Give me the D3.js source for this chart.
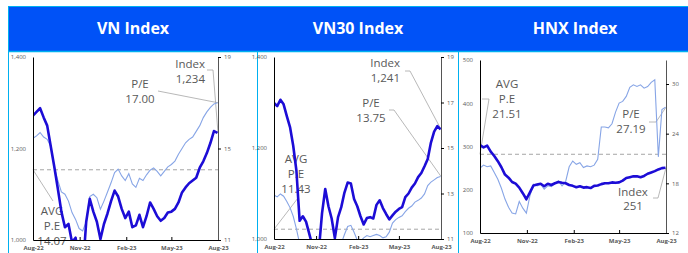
<!DOCTYPE html>
<html>
<head>
<meta charset="utf-8">
<script src="https://cdn.jsdelivr.net/npm/d3@7/dist/d3.min.js"></script>
<style>
  body { margin: 0; background: #fff; }
  svg { display: block; font-family: "Open Sans", sans-serif; }
</style>
</head>
<body>
<svg id="chart" width="688" height="253"></svg>
<script>
const titles = ["VN Index", "VN30 Index", "HNX Index"];
const xTickLabels = ["Aug-22", "Nov-22", "Feb-23", "May-23", "Aug-23"];
const xTickDates = ["2022-08-01", "2022-11-01", "2023-02-01", "2023-05-01", "2023-08-01"];

// weekly closes, Aug-22 .. Aug-23
const vnIndex = [1272,1280,1288,1268,1250,1205,1160,1112,1062,1028,1035,995,1005,960,930,1040,1090,1062,1040,1002,
  1035,1058,1085,1108,1095,1068,1048,1062,1028,1032,1055,1028,1052,1082,1068,1052,1042,1048,1060,1062,
  1068,1082,1104,1115,1124,1130,1136,1158,1172,1190,1212,1238,1234];
const vnPE = [15.45,15.55,15.7,15.5,15.4,15.1,14.2,13.6,13.1,13.0,12.7,12.2,11.9,11.5,11.4,11.8,12.9,13.0,12.85,12.35,
  12.7,13.1,13.5,13.95,14.1,13.8,13.6,13.9,13.45,13.3,13.7,13.6,13.85,14.05,14.15,14.0,13.8,14.0,14.2,14.3,
  14.45,14.75,15.0,15.25,15.4,15.5,15.75,16.0,16.35,16.6,16.8,16.95,17.0];

const vn30Index = [1299,1292,1306,1296,1270,1246,1205,1150,1040,1050,1038,1012,985,960,975,1057,1110,1072,1045,1002,
  1048,1070,1102,1124,1122,1088,1072,1050,1032,1046,1048,1045,1075,1085,1068,1055,1043,1052,1060,1066,
  1070,1092,1100,1113,1122,1136,1145,1160,1176,1212,1236,1248,1241];
const vn30PE = [12.93,12.85,12.98,12.88,12.65,12.38,12.0,11.45,10.8,10.6,10.5,10.3,10.2,10.1,10.3,10.7,10.85,10.7,10.5,10.3,
  10.6,10.8,11.2,11.55,11.6,11.3,10.95,10.9,11.05,11.15,11.1,11.15,11.2,11.15,11.05,11.1,11.3,11.7,11.85,11.95,
  12.02,12.2,12.35,12.45,12.62,12.7,12.8,12.98,13.35,13.5,13.6,13.7,13.75];

const hnxIndex = [303,298,302,288,278,266,252,235,228,218,214,205,192,178,194,210,212,214,208,214,
  211,215,218,216,215,211,209,206,208,205,206,204,209,210,213,215,215,217,216,217,
  221,227,229,231,231,229,232,237,240,243,247,250,251];
const hnxPE = [19.85,20.2,20.0,20.1,19.3,18.5,17.4,16.1,15.1,14.4,14.3,15.8,15.0,14.4,16.5,17.9,17.7,17.9,17.3,17.7,
  17.6,18.0,18.3,17.7,18.2,20.0,20.7,20.3,20.5,19.9,20.1,20.0,20.2,20.9,24.8,24.8,24.7,25.2,26.6,27.7,
  27.9,28.5,29.6,29.9,29.7,29.9,29.5,29.7,30.2,30.5,21.2,26.9,27.19];

const avgPE = [14.07, 11.43, 21.51];

const startDate = new Date(2022, 7, 1);
const weeks = d3.range(vnIndex.length).map(i => d3.timeDay.offset(startDate, i * 7));
const tickDates = xTickDates.map(d => d3.timeParse("%Y-%m-%d")(d));

const svg = d3.select("#chart");
const cyan = "#00b0f0";
const grey = "#595959";

// header band + panel borders
svg.append("rect").attr("x", 8).attr("y", 6).attr("width", 690).attr("height", 46).attr("fill", "#0052f7");
svg.append("line").attr("x1", 8).attr("x2", 688).attr("y1", 6.5).attr("y2", 6.5).attr("stroke", cyan);
svg.append("line").attr("x1", 8).attr("x2", 688).attr("y1", 51.5).attr("y2", 51.5).attr("stroke", cyan).attr("stroke-width", 1.5);
[8.5, 257.5, 458.5].forEach((x, i) => {
  svg.append("line").attr("x1", x).attr("x2", x).attr("y1", i === 0 ? 6 : 51).attr("y2", 253)
    .attr("stroke", cyan);
});
[133, 358, 575].forEach((cx, i) => {
  svg.append("text").attr("x", cx).attr("y", 34).attr("text-anchor", "middle")
    .attr("fill", "#fff").attr("font-weight", "bold").attr("font-size", 16).text(titles[i]);
});

const panels = [
  {
    x0: 33, x1: 218, y0: 57, y1: 240,
    index: vnIndex, pe: vnPE, avg: avgPE[0],
    left: [1000, 1400], leftTicks: [1000, 1200, 1400],
    right: [11, 19], rightTicks: [11, 15, 19],
    notes: {
      index: { x: 205, anchor: "end", ys: [68, 83], path: [[207, 70], [213, 70]] },
      pe: { x: 140, anchor: "middle", ys: [88, 103], path: [[158, 91]] },
      avg: { x: 52, ys: [215, 230, 245], path: [[53, 201]] }
    }
  },
  {
    x0: 274, x1: 441, y0: 57, y1: 239,
    index: vn30Index, pe: vn30PE, avg: avgPE[1],
    left: [1000, 1400], leftTicks: [1000, 1200, 1400],
    right: [11, 19], rightTicks: [11, 13, 15, 17, 19],
    notes: {
      index: { x: 400, anchor: "end", ys: [67, 82], path: [[405, 71], [410, 71]] },
      pe: { x: 371, anchor: "middle", ys: [107, 122], path: [[389, 110], [394, 110]] },
      avg: { x: 296, ys: [163, 178, 193], path: [[298, 198]] }
    }
  },
  {
    x0: 480, x1: 666, y0: 60, y1: 233,
    index: hnxIndex, pe: hnxPE, avg: avgPE[2],
    left: [100, 500], leftTicks: [100, 200, 300, 400, 500],
    right: [12, 32.9], rightTicks: [12, 18, 24, 30],
    notes: {
      index: { x: 633, anchor: "middle", ys: [196, 210], path: [[653, 198], [658, 198]] },
      pe: { x: 631, anchor: "middle", ys: [118, 133], path: [[649, 122], [656, 122]] },
      avg: { x: 507, ys: [88, 103, 118], path: [[489, 99], [482, 99]] }
    }
  }
];

panels.forEach((p, k) => {
  const x = d3.scaleTime().domain([startDate, new Date(2023, 7, 1)]).range([p.x0, p.x1]);
  const yL = d3.scaleLinear().domain(p.left).range([p.y1, p.y0]);
  const yR = d3.scaleLinear().domain(p.right).range([p.y1, p.y0]);
  const g = svg.append("g");

  const clipId = "clip" + k;
  g.append("clipPath").attr("id", clipId)
    .append("rect").attr("x", p.x0).attr("y", p.y0).attr("width", p.x1 - p.x0).attr("height", p.y1 - p.y0);

  const last = weeks.length - 1;
  const indexEnd = [p.x1, yL(p.index[last])];
  const peEnd = [p.x1, yR(p.pe[last])];
  const avgY = yR(p.avg);

  // annotation texts (drawn under the lines, like the original)
  const fmtIdx = d3.format(",.0f");
  const note = (n, lines) => {
    const t = g.append("text").attr("fill", grey).attr("font-size", 11.5)
      .attr("text-anchor", n.anchor || "middle");
    lines.forEach((s, i) => t.append("tspan").attr("x", n.x).attr("y", n.ys[i]).text(s));
  };
  note(p.notes.index, ["Index", fmtIdx(p.index[last])]);
  note(p.notes.pe, ["P/E", p.pe[last].toFixed(2)]);
  note(p.notes.avg, ["AVG", "P.E", p.avg.toFixed(2)]);

  const leader = pts => g.append("path").attr("d", d3.line()(pts))
    .attr("fill", "none").attr("stroke", "#a6a6a6").attr("stroke-width", 0.8);
  leader([...p.notes.index.path, indexEnd]);
  leader([...p.notes.pe.path, peEnd]);
  leader([[p.x0, avgY], ...p.notes.avg.path].reverse());

  // average P/E
  g.append("line").attr("x1", p.x0).attr("x2", p.x1).attr("y1", avgY).attr("y2", avgY)
    .attr("stroke", "#a6a6a6").attr("stroke-width", 1).attr("stroke-dasharray", "4,3");

  const series = g.append("g").attr("clip-path", `url(#${clipId})`);
  series.append("path")
    .attr("d", d3.line().x((d, i) => x(weeks[i])).y(d => yR(d))(p.pe))
    .attr("fill", "none").attr("stroke", "#87a5e6").attr("stroke-width", 1.1);
  series.append("path")
    .attr("d", d3.line().x((d, i) => x(weeks[i])).y(d => yL(d))(p.index))
    .attr("fill", "none").attr("stroke", "#1c0cd6").attr("stroke-width", 2.6)
    .attr("stroke-linejoin", "round");

  // axes
  const ax = g.append("g").attr("transform", `translate(0,${p.y1})`)
    .call(d3.axisBottom(x).tickValues(tickDates).tickFormat((d, i) => xTickLabels[i])
      .tickSizeInner(-3).tickSizeOuter(0).tickPadding(6));
  ax.selectAll("text").attr("font-size", 6).attr("font-weight", "bold").attr("fill", grey);

  const al = g.append("g").attr("transform", `translate(${p.x0},0)`)
    .call(d3.axisLeft(yL).tickValues(p.leftTicks).tickFormat(d3.format(","))
      .tickSize(0).tickPadding(7));
  al.selectAll("text").attr("font-size", 6).attr("fill", grey);

  const ar = g.append("g").attr("transform", `translate(${p.x1},0)`)
    .call(d3.axisRight(yR).tickValues(p.rightTicks).tickSizeInner(3).tickSizeOuter(0).tickPadding(3));
  ar.selectAll("text").attr("font-size", 6).attr("fill", grey);
  ar.select(".domain").attr("stroke", "#555");

  [ax, al, ar].forEach(a => a.attr("font-family", null));
});
</script>
</body>
</html>
